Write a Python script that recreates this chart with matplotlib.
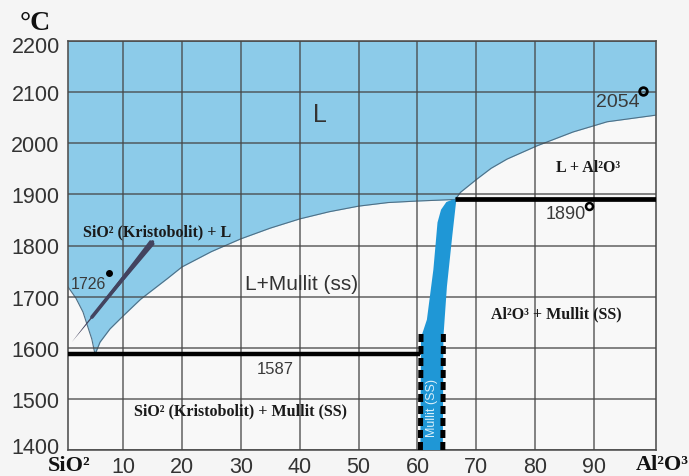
import matplotlib
matplotlib.use("Agg")
import matplotlib.pyplot as plt
import matplotlib.transforms as mtransforms
import numpy as np

# ---------------- data ----------------
# SiO2 (cristobalite) liquidus: from 1726 °C down to the eutectic
x_sio2_liq = [0.0, 0.66, 2.0, 3.2, 4.7, 5.25]
t_sio2_liq = [1726, 1719, 1697, 1670, 1617, 1587]
# mullite liquidus: eutectic up to the peritectic at 1890 °C
x_mul_liq = [5.25, 6.1, 7.8, 10.0, 13.0, 17.5, 20.0, 25.0, 30.0, 35.0,
             40.0, 45.0, 50.0, 55.0, 60.0, 66.4]
t_mul_liq = [1587, 1611, 1637, 1662, 1695, 1735, 1758, 1788, 1813, 1834,
             1852, 1866, 1877, 1884, 1887, 1890]
# Al2O3 liquidus: 1890 °C up to 2054 °C
x_al_liq = [66.4, 67.3, 70.1, 72.5, 75.2, 80.3, 86.4, 92.2, 100.5]
t_al_liq = [1890, 1904, 1930, 1951, 1969, 1995, 2022, 2042, 2055]

# mullite solid solution band
band_t_left = [1400, 1620, 1655, 1753, 1845, 1870, 1885, 1890]
band_x_left = [60.5, 60.6, 61.6, 62.7, 63.4, 64.0, 64.9, 66.0]
band_t_right = [1400, 1621, 1720, 1818, 1890]
band_x_right = [64.3, 64.4, 65.0, 65.9, 66.6]

# invariant lines
eutectic_t = 1587
eutectic_x = [0.66, 60.4]
peritectic_t = 1890
peritectic_x = [66.4, 100.5]

x_ticks = [10, 20, 30, 40, 50, 60, 70, 80, 90]
y_ticks = [1400, 1500, 1600, 1700, 1800, 1900, 2000, 2100, 2200]

# ---------------- styling ----------------
SANS = "Liberation Sans"
SERIF = "Liberation Serif"
L_BLUE = "#8ccbe9"
BAND_BLUE = "#1f97d6"
GRID = "#474747"

fig = plt.figure(figsize=(6.89, 4.77), dpi=100, facecolor="#f5f5f5")
ax = fig.add_axes([68 / 689, 1 - 451 / 477, 588 / 689, (451 - 42) / 477])
ax.set_facecolor("#f8f8f8")
ax.set_xlim(0.66, 100.5)
ax.set_ylim(1400, 2200)

# liquid region
x_liq = np.array(x_sio2_liq + x_mul_liq[1:] + x_al_liq[1:])
t_liq = np.array(t_sio2_liq + t_mul_liq[1:] + t_al_liq[1:])
ax.fill_between(x_liq, t_liq, 2200, color=L_BLUE, lw=0, zorder=1)
ax.plot(x_liq, t_liq, color="#4f6f85", lw=0.8, zorder=2)

# grid
ax.set_xticks(x_ticks)
ax.set_yticks(y_ticks)
ax.grid(True, color=GRID, lw=1.1, alpha=0.85, zorder=2)
ax.set_axisbelow(False)
for gl in ax.get_xgridlines() + ax.get_ygridlines():
    gl.set_zorder(2)

# mullite band
bx = np.concatenate([band_x_left, band_x_right[::-1]])
bt = np.concatenate([band_t_left, band_t_right[::-1]])
ax.fill(bx, bt, color=BAND_BLUE, lw=0, zorder=3)
# dashed borders of the band below ~1625 °C
ax.plot([band_x_left[0], band_x_left[1]], [band_t_left[0], 1628], color="black",
        lw=3.6, dashes=(1.6, 0.8), zorder=4)
ax.plot([band_x_right[0], band_x_right[1]], [band_t_right[0], 1628], color="black",
        lw=3.6, dashes=(1.6, 0.8), zorder=4)

# invariant lines
ax.plot(eutectic_x, [eutectic_t, eutectic_t], color="black", lw=3.2, zorder=4,
        solid_capstyle="butt")
ax.plot([eutectic_x[1], eutectic_x[1]], [eutectic_t, 1600], color="black", lw=1.2, zorder=4)
ax.plot(peritectic_x, [peritectic_t, peritectic_t], color="black", lw=3.4, zorder=4,
        solid_capstyle="butt")

# spines / ticks
for s in ax.spines.values():
    s.set_color("#555555")
    s.set_linewidth(1.2)
ax.tick_params(length=0, pad=5, labelsize=15.5, labelcolor="#333333")
ax.set_xticklabels([str(v) for v in x_ticks], fontfamily=SANS)
ax.set_yticklabels([str(v) for v in y_ticks], fontfamily=SANS)
ax.tick_params(axis="y", pad=6)
ax.tick_params(axis="x", pad=4)

# end tick labels sit slightly inside the axis range in the reference
ylabels = ax.get_yticklabels()
ylabels[0].set_transform(ylabels[0].get_transform() +
                         mtransforms.ScaledTranslation(0, 5 / 100, fig.dpi_scale_trans))
ylabels[-1].set_transform(ylabels[-1].get_transform() +
                          mtransforms.ScaledTranslation(0, -3 / 100, fig.dpi_scale_trans))

# axis end labels
fig.text(69 / 689, 1 - 466 / 477, "SiO²", fontfamily=SERIF, fontweight="bold",
         fontsize=16, ha="center", va="center", color="#111111")
fig.text(662 / 689, 1 - 465 / 477, "Al²O³", fontfamily=SERIF, fontweight="bold",
         fontsize=16, ha="center", va="center", color="#111111")
fig.text(35 / 689, 1 - 24 / 477, "°C", fontfamily=SERIF, fontweight="bold",
         fontsize=20, ha="center", va="center", color="#111111")

# region labels
ax.text(43.5, 2057, "L", fontfamily=SANS, fontsize=18, ha="center", va="center",
        color="#333333", zorder=5)
ax.text(40.4, 1725, "L+Mullit (ss)", fontfamily=SANS, fontsize=15, ha="center",
        va="center", color="#333333", zorder=5)
bold = dict(fontfamily=SERIF, fontweight="bold", fontsize=11.5, ha="center",
            va="center", color="#1a1a1a", zorder=5)
ax.text(89.0, 1954, "L + Al²O³", **bold)
ax.text(83.5, 1668, "Al²O³ + Mullit (SS)", **bold)
ax.text(15.8, 1828, "SiO² (Kristobolit) + L", **bold)
ax.text(29.9, 1478, "SiO² (Kristobolit) + Mullit (SS)", **bold)
ax.text(62.5, 1484, "Mullit (SS)", fontfamily=SANS, fontsize=9, rotation=90,
        ha="center", va="center", color="#d9effa", zorder=5)

# temperature labels
num = dict(fontfamily=SANS, ha="center", va="center", color="#3a3a3a", zorder=5)
ax.text(94.1, 2081, "2054", fontsize=14, **num)
ax.text(85.1, 1862, "1890", fontsize=13, **num)
ax.text(35.8, 1560, "1587", fontsize=12, **num)
ax.text(4.1, 1725, "1726", fontsize=11.5, **num)
ax.plot([98.3], [2102], "o", ms=5.5, mfc="none", mec="black", mew=2.0, zorder=6)
ax.plot([89.2], [1877], "o", ms=5.0, mfc="none", mec="black", mew=1.8, zorder=6)
ax.plot([7.6], [1746], "o", ms=4, color="black", zorder=6)

# pointer needle from the SiO2 + L label down to the left branch
tail = np.array([15.0, 1807])
tip = np.array([1.3, 1611])
mid = tail + 0.75 * (tip - tail)
ax.plot([tail[0], mid[0]], [tail[1], mid[1]], color="#43435f", lw=2.6, zorder=5,
        solid_capstyle="round")
ax.annotate("", xy=tuple(tip), xytext=tuple(tail),
            arrowprops=dict(arrowstyle="wedge,tail_width=0.45,shrink_factor=0.5",
                            color="#43435f", lw=0, shrinkA=0, shrinkB=0),
            zorder=5)

fig.savefig("out.png", dpi=100, facecolor=fig.get_facecolor())
